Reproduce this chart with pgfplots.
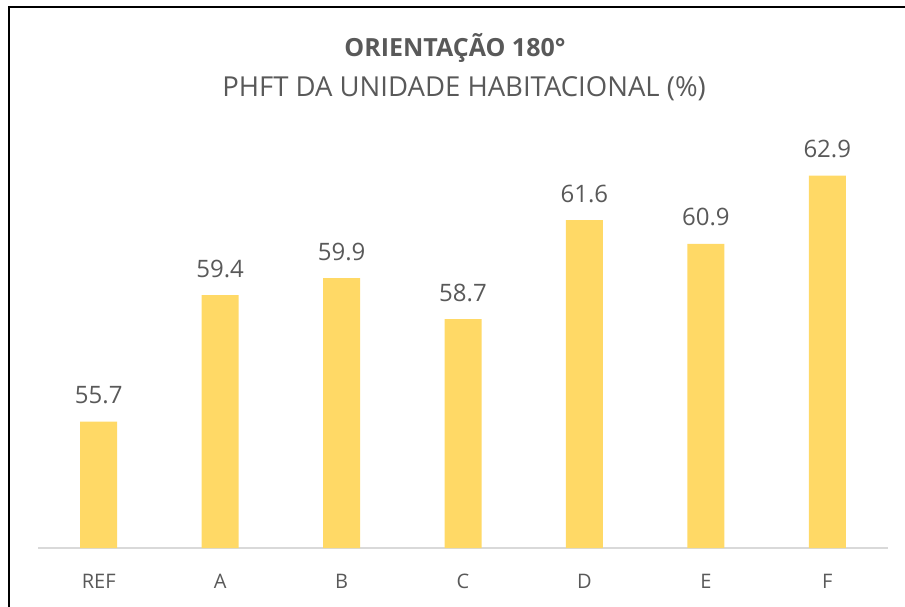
\documentclass[border=0pt]{standalone}
\usepackage{pgfplots}
\pgfplotsset{compat=1.18}
\usepackage{fontspec}
\setmainfont{Open Sans}
\definecolor{txt}{HTML}{595959}
\definecolor{barc}{HTML}{FFD966}
\definecolor{axl}{HTML}{D9D9D9}
\begin{document}
\begin{tikzpicture}
\path[use as bounding box] (0,0) rectangle (905bp,-607bp);
\draw[line width=2bp,black] (9bp,-607bp) -- (9bp,-7bp) -- (905bp,-7bp);
\node[anchor=base,text=txt,font=\fontsize{25bp}{29bp}\selectfont\bfseries] at (455bp,-56bp) {ORIENTAÇÃO 180°};
\node[anchor=base,text=txt,font=\fontsize{27.5bp}{32bp}\selectfont] at (464bp,-96bp) {PHFT DA UNIDADE HABITACIONAL (\%)};
\begin{axis}[
  at={(38bp,-548bp)}, anchor=south west,
  scale only axis, width=850bp, height=410bp,
  xmin=-0.5, xmax=6.5, ymin=52, ymax=64,
  axis y line=none,
  axis x line*=bottom,
  x axis line style={axl, line width=1.5bp, -},
  xtick=data,
  xticklabels={REF,A,B,C,D,E,F},
  xtick style={draw=none},
  x tick label style={text=txt, font=\fontsize{20bp}{24bp}\selectfont, anchor=base, yshift=-40bp},
  clip=false,
  nodes near coords,
  every node near coord/.append style={text=txt, font=\fontsize{24bp}{28bp}\selectfont, anchor=base, yshift=18bp,
    /pgf/number format/.cd, fixed, fixed zerofill, precision=1, assume math mode=true},
]
\addplot[ybar, bar width=37bp, fill=barc, draw=none] coordinates {
(0,55.7) (1,59.4) (2,59.9) (3,58.7) (4,61.6) (5,60.9) (6,62.9)
};
\end{axis}
\end{tikzpicture}
\end{document}
